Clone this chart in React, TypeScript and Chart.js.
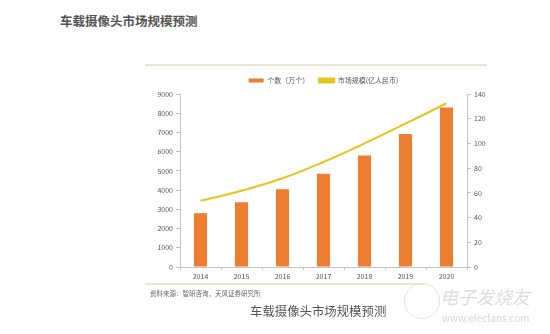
import React, { useEffect, useRef } from "react";
import { Chart, registerables } from "chart.js";

Chart.register(...registerables);

const years = ["2014", "2015", "2016", "2017", "2018", "2019", "2020"];
const unitCounts = [2800, 3370, 4050, 4850, 5800, 6920, 8300];
const marketSize = [53.6, 61.7, 71.8, 85, 100, 116, 132.5];
const leftTicks = [0, 1000, 2000, 3000, 4000, 5000, 6000, 7000, 8000, 9000];
const rightTicks = [0, 20, 40, 60, 80, 100, 120, 140];
const barLabel = "个数（万个）";
const lineLabel = "市场规模(亿人民币)";
const titleText = "车载摄像头市场规模预测";
const sourceText = "资料来源：智研咨询，天风证券研究所";

const FONT = "'Noto Sans CJK SC', 'Noto Sans', sans-serif";

export default function App() {
  const ref = useRef<HTMLCanvasElement>(null);
  useEffect(() => {
    if (!ref.current) return;
    const axisColor = "#c4c4c4";
    const chart = new Chart(ref.current, {
      data: {
        labels: years,
        datasets: [
          {
            type: "line",
            label: lineLabel,
            data: marketSize,
            yAxisID: "y1",
            borderColor: "#E6C41E",
            backgroundColor: "#E6C41E",
            borderWidth: 2,
            pointRadius: 0,
            tension: 0.4,
            order: 0,
          },
          {
            type: "bar",
            label: barLabel,
            data: unitCounts,
            yAxisID: "y",
            backgroundColor: "#ED7D31",
            barPercentage: 0.32,
            categoryPercentage: 1,
            order: 1,
          },
        ],
      },
      options: {
        animation: false,
        responsive: false,
        layout: { padding: { left: 140, right: 43, top: 67, bottom: 47 } },
        plugins: {
          tooltip: { enabled: false },
          legend: {
            position: "top",
            reverse: true,
            labels: {
              font: { size: 7, family: FONT },
              color: "#555",
              boxWidth: 15,
              boxHeight: 4,
              padding: 10,
            },
          },
        },
        scales: {
          x: {
            grid: {
              display: true,
              drawOnChartArea: false,
              drawTicks: true,
              tickLength: 3,
              color: axisColor,
              offset: true,
            },
            border: { color: axisColor },
            ticks: { font: { size: 7, family: FONT }, color: "#555", padding: 2 },
            afterFit: (s: any) => { s.height = 20; },
          },
          y: {
            position: "left",
            min: 0,
            max: 9000,
            afterBuildTicks: (s: any) => { s.ticks = leftTicks.map((v) => ({ value: v })); },
            grid: { drawOnChartArea: false, tickLength: 4, color: axisColor },
            border: { color: axisColor },
            ticks: { font: { size: 7, family: FONT }, color: "#555", padding: 3, callback: (v: any) => String(v) },
            afterFit: (s: any) => { s.width = 40; },
          },
          y1: {
            position: "right",
            min: 0,
            max: 140,
            afterBuildTicks: (s: any) => { s.ticks = rightTicks.map((v) => ({ value: v })); },
            grid: { drawOnChartArea: false, tickLength: 4, color: axisColor },
            border: { color: axisColor },
            ticks: { font: { size: 7, family: FONT }, color: "#555", padding: 3, callback: (v: any) => String(v) },
            afterFit: (s: any) => { s.width = 40; },
          },
        },
      },
    } as any);
    return () => chart.destroy();
  }, []);

  return (
    <div style={{ position: "fixed", left: 0, top: 0, width: 550, height: 334, background: "#fff", overflow: "hidden", fontFamily: FONT }}>
      <div style={{ position: "absolute", left: 60, top: 11, fontSize: 12.5, fontWeight: 700, color: "#555", whiteSpace: "nowrap" }}>{titleText}</div>
      <div style={{ position: "absolute", left: 145, top: 64, width: 342, height: 2, background: "#ece6cf" }} />
      <canvas ref={ref} width={550} height={334} style={{ position: "absolute", left: 0, top: 0, width: 550, height: 334 }} />
      <div style={{ position: "absolute", left: 145, top: 283, width: 280, height: 2, background: "#ece6cf" }} />
      <div style={{ position: "absolute", left: 150, top: 288, fontSize: 6.5, color: "#666", whiteSpace: "nowrap" }}>{sourceText}</div>
      <div style={{ position: "absolute", left: 250, top: 302, fontSize: 12.4, color: "#555", whiteSpace: "nowrap" }}>{titleText}</div>
      <div style={{ position: "absolute", left: 404, top: 283, width: 34, height: 34, borderRadius: "50%", border: "1.5px solid #e2e2e2" }} />
      <div style={{ position: "absolute", left: 440, top: 283, fontSize: 18, color: "#dcdcdc", fontStyle: "italic", whiteSpace: "nowrap" }}>电子发烧友</div>
      <div style={{ position: "absolute", left: 442, top: 310, fontSize: 10, color: "#d6d6d6", whiteSpace: "nowrap" }}>www.elecfans.com</div>
    </div>
  );
}
